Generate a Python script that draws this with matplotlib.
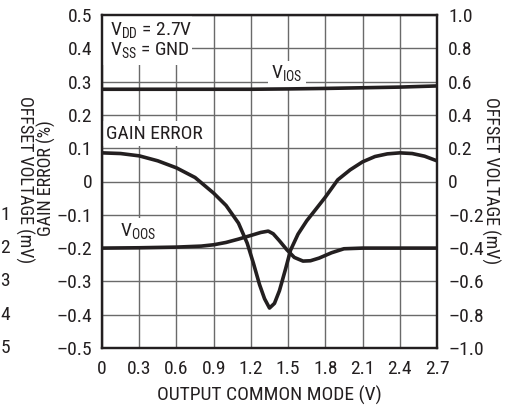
import matplotlib
matplotlib.use("Agg")
import matplotlib.pyplot as plt
from matplotlib.patches import Rectangle
from matplotlib.transforms import blended_transform_factory

plt.rcParams["font.family"] = ["Roboto Condensed", "DejaVu Sans"]
plt.rcParams["mathtext.fontset"] = "custom"
plt.rcParams["mathtext.rm"] = "Roboto Condensed"
FS = 14
FS_SIDE = 13

# ── data ───────────────────────────────────────────────────────────────
x_ticks = [0, 0.3, 0.6, 0.9, 1.2, 1.5, 1.8, 2.1, 2.4, 2.7]
x_tick_labels = ["0", "0.3", "0.6", "0.9", "1.2", "1.5", "1.8", "2.1", "2.4", "2.7"]
gain_ticks = [0.5, 0.4, 0.3, 0.2, 0.1, 0, -0.1, -0.2, -0.3, -0.4, -0.5]
gain_tick_labels = ["0.5", "0.4", "0.3", "0.2", "0.1", "0",
                    "\u20130.1", "\u20130.2", "\u20130.3", "\u20130.4", "\u20130.5"]
offset_ticks = [1.0, 0.8, 0.6, 0.4, 0.2, 0, -0.2, -0.4, -0.6, -0.8, -1.0]
offset_tick_labels = ["1.0", "0.8", "0.6", "0.4", "0.2", "0",
                      "\u20130.2", "\u20130.4", "\u20130.6", "\u20130.8", "\u20131.0"]
stub_labels = ["1", "2", "3", "4", "5"]          # clipped labels at far left
stub_pos = [-0.1, -0.2, -0.3, -0.4, -0.5]

# gain error (%)
gain_x = [0, 0.15, 0.3, 0.45, 0.6, 0.75, 0.9, 1.0, 1.1, 1.17, 1.22, 1.27, 1.31,
          1.35, 1.39, 1.43, 1.48, 1.52, 1.58, 1.65, 1.72, 1.8, 1.9, 2.0, 2.1,
          2.2, 2.3, 2.4, 2.5, 2.6, 2.7]
gain_y = [0.086, 0.084, 0.077, 0.062, 0.041, 0.012, -0.035, -0.072, -0.125,
          -0.185, -0.245, -0.31, -0.352, -0.38, -0.366, -0.328, -0.262, -0.206,
          -0.158, -0.118, -0.085, -0.047, 0.005, 0.035, 0.059, 0.075, 0.083,
          0.086, 0.084, 0.076, 0.062]

# V_IOS (mV)
vios_x = [0, 0.3, 0.6, 0.9, 1.2, 1.5, 1.8, 2.1, 2.4, 2.7]
vios_y = [0.554, 0.554, 0.554, 0.554, 0.554, 0.556, 0.559, 0.563, 0.567, 0.574]

# V_OOS (mV)
voos_x = [0, 0.3, 0.6, 0.8, 0.9, 1.0, 1.1, 1.2, 1.28, 1.34, 1.38, 1.43, 1.49,
          1.55, 1.62, 1.68, 1.75, 1.85, 1.95, 2.1, 2.4, 2.7]
voos_y = [-0.4, -0.398, -0.394, -0.388, -0.38, -0.366, -0.346, -0.324, -0.306,
          -0.298, -0.314, -0.356, -0.41, -0.456, -0.478, -0.476, -0.46, -0.428,
          -0.404, -0.4, -0.4, -0.4]

# ── figure ─────────────────────────────────────────────────────────────
W, H = 515, 405
fig = plt.figure(figsize=(W / 100, H / 100), dpi=100)
L, R, T, B = 102, 437, 15, 348
ax = fig.add_axes([L / W, 1 - B / H, (R - L) / W, (B - T) / H])
ax2 = ax.twinx()

ink = "#231f20"
ax.set_xlim(0, 2.7)
ax.set_ylim(-0.5, 0.5)
ax2.set_ylim(-1.0, 1.0)
ax.set_xticks(x_ticks, x_tick_labels)
ax.set_yticks(gain_ticks, gain_tick_labels)
ax2.set_yticks(offset_ticks, offset_tick_labels)
ax.tick_params(length=0, labelsize=FS, pad=7, colors=ink)
ax.tick_params(axis="x", pad=9)
ax2.tick_params(length=0, labelsize=FS, pad=8, colors=ink)

ax.grid(True, color="#6a6a6a", linewidth=1.0)
ax.set_axisbelow(True)
for a in (ax, ax2):
    for s in a.spines.values():
        s.set_color(ink)
        s.set_linewidth(1.6)

ax2.plot(vios_x, vios_y, color=ink, lw=2.6, solid_capstyle="butt", zorder=3)
ax2.plot(voos_x, voos_y, color=ink, lw=2.6, solid_capstyle="butt", zorder=3)
ax2.plot(gain_x, [g * 2 for g in gain_y], color=ink, lw=2.6,
         solid_capstyle="butt", zorder=3)

# annotation boxes that blank the grid
ax.add_patch(Rectangle((0, 0.35), 0.725, 0.15, facecolor="white",
                       edgecolor="none", zorder=1.5))
ax.text(0.065, 0.452, r"V$_\mathrm{DD}$ = 2.7V", fontsize=FS, color=ink,
        va="center", ha="left", zorder=2)
ax.text(0.065, 0.392, r"V$_\mathrm{SS}$ = GND", fontsize=FS, color=ink,
        va="center", ha="left", zorder=2)

box = dict(facecolor="white", edgecolor="none", pad=2.5)
ax.text(1.49, 0.322, r"V$_\mathrm{IOS}$", fontsize=FS, color=ink,
        ha="center", va="center", bbox=box, zorder=2)
ax.text(0.03, 0.143, "GAIN ERROR", fontsize=FS, color=ink,
        ha="left", va="center", bbox=box, zorder=2)
ax.text(0.145, -0.152, r"V$_\mathrm{OOS}$", fontsize=FS, color=ink,
        ha="left", va="center", bbox=box, zorder=2)

# axis titles
ax.set_xlabel("OUTPUT COMMON MODE (V)", fontsize=FS, color=ink, labelpad=5)
fig.text(46 / W, 1 - 178 / H, "GAIN ERROR (%)", rotation=90, fontsize=FS_SIDE,
         color=ink, ha="center", va="center")
fig.text(25 / W, 1 - 180 / H, "OFFSET VOLTAGE (mV)", rotation=270,
         fontsize=FS_SIDE, color=ink, ha="center", va="center")
fig.text(491 / W, 1 - 181 / H, "OFFSET VOLTAGE (mV)", rotation=270,
         fontsize=FS_SIDE, color=ink, ha="center", va="center")

tr = blended_transform_factory(fig.transFigure, ax.transData)
for lab, yv in zip(stub_labels, stub_pos):
    ax.text(10 / W, yv, lab, transform=tr, fontsize=FS, color=ink,
            ha="right", va="center", clip_on=False)

fig.savefig("out.png", dpi=100)
